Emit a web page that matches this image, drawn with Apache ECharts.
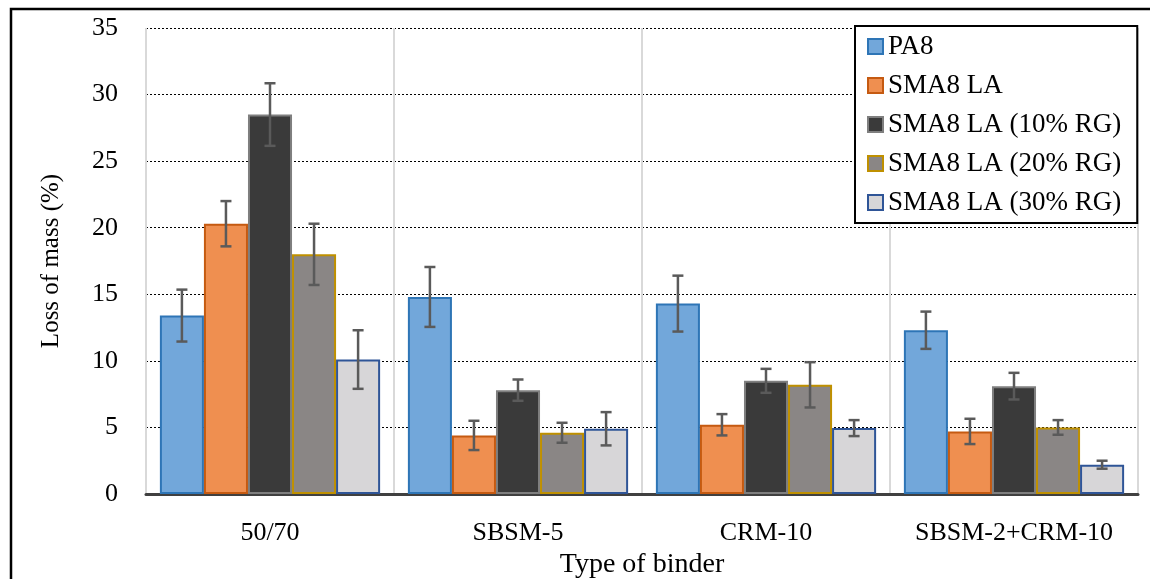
<!DOCTYPE html>
<html>
<head>
<meta charset="utf-8">
<script src="https://cdn.jsdelivr.net/npm/echarts@6/dist/echarts.min.js"></script>
<style>
  html, body { margin: 0; padding: 0; background: #fff; overflow: hidden; }
  #chart { width: 1150px; height: 579px; }
</style>
</head>
<body>
<div id="chart"></div>
<script>
  // categories + series names
  const categories = ['50/70', 'SBSM-5', 'CRM-10', 'SBSM-2+CRM-10'];
  const seriesNames = ['PA8', 'SMA8 LA', 'SMA8 LA (10% RG)', 'SMA8 LA (20% RG)', 'SMA8 LA (30% RG)'];
  const yTicks = [0, 5, 10, 15, 20, 25, 30, 35];

  // mean loss of mass (%)
  const pa8 = [13.4, 14.8, 14.3, 12.3];
  const sma8 = [20.3, 4.4, 5.2, 4.7];
  const rg10 = [28.5, 7.8, 8.5, 8.1];
  const rg20 = [18.0, 4.6, 8.2, 5.0];
  const rg30 = [10.1, 4.9, 4.95, 2.2];

  // error bar half-widths
  const errPa8 = [1.95, 2.25, 2.1, 1.4];
  const errSma8 = [1.7, 1.1, 0.8, 0.95];
  const errRg10 = [2.35, 0.8, 0.9, 1.0];
  const errRg20 = [2.3, 0.75, 1.7, 0.55];
  const errRg30 = [2.2, 1.25, 0.6, 0.3];

  const FONT = '"Liberation Serif", "Times New Roman", serif';
  const fills = ['#72a7da', '#ef8f50', '#3a3a3a', '#8a8685', '#d7d6d8'];
  const borders = ['#2e75b6', '#c55a11', '#7f7f7f', '#bf9000', '#2f5597'];
  const catGap = 0.112;

  const values = [pa8, sma8, rg10, rg20, rg30];
  const errors = [errPa8, errSma8, errRg10, errRg20, errRg30];

  let chart = echarts.init(document.getElementById('chart'));

  let series = seriesNames.map((name, i) => ({
    name: name,
    type: 'bar',
    barGap: '0%',
    barCategoryGap: (catGap * 100) + '%',
    itemStyle: {
      color: fills[i],
      borderColor: borders[i],
      borderWidth: 2
    },
    data: values[i]
  }));

  // error bars: [catIndex, low, high, seriesIndex]
  let errData = [];
  values.forEach((vals, s) => {
    vals.forEach((v, c) => {
      errData.push([c, v - errors[s][c], v + errors[s][c], s]);
    });
  });

  series.push({
    type: 'custom',
    name: 'err',
    z: 10,
    silent: true,
    data: errData,
    encode: {x: 0, y: [1, 2]},
    renderItem: function (params, api) {
      let c = api.value(0), s = api.value(3);
      let lo = api.coord([c, api.value(1)]);
      let hi = api.coord([c, api.value(2)]);
      let band = api.size([1, 0])[0];
      let groupW = band * (1 - catGap);
      let barW = groupW / seriesNames.length;
      let x = lo[0] - groupW / 2 + barW * (s + 0.5);
      let half = 5.5;
      let style = {stroke: '#5a5a5a', lineWidth: 2.5};
      return {
        type: 'group',
        children: [
          {type: 'line', shape: {x1: x, y1: hi[1], x2: x, y2: lo[1]}, style: style},
          {type: 'line', shape: {x1: x - half, y1: hi[1], x2: x + half, y2: hi[1]}, style: style},
          {type: 'line', shape: {x1: x - half, y1: lo[1], x2: x + half, y2: lo[1]}, style: style}
        ]
      };
    }
  });

  chart.setOption({
    animation: false,
    textStyle: {fontFamily: FONT, color: '#000'},
    graphic: [{
      type: 'rect',
      shape: {x: 11, y: 9, width: 1400, height: 800},
      style: {fill: 'none', stroke: '#000', lineWidth: 2.5},
      z: 100
    }],
    legend: {
      data: seriesNames,
      orient: 'vertical',
      left: 855,
      top: 26,
      icon: 'rect',
      itemWidth: 15,
      itemHeight: 15,
      itemGap: 12,
      padding: [7, 16, 7, 12],
      borderColor: '#000',
      borderWidth: 2,
      backgroundColor: '#fff',
      textStyle: {fontFamily: FONT, fontSize: 27, lineHeight: 27, color: '#000'},
      z: 20
    },
    grid: {
      left: 146,
      right: 12,
      top: 28,
      bottom: 85,
      containLabel: false,
      outerBoundsMode: 'none'
    },
    xAxis: {
      type: 'category',
      data: categories,
      name: 'Type of binder',
      nameLocation: 'middle',
      nameGap: 55,
      nameTextStyle: {fontFamily: FONT, fontSize: 28, color: '#000'},
      axisLine: {show: true, lineStyle: {color: '#404040', width: 3}},
      axisTick: {show: false},
      axisLabel: {fontFamily: FONT, fontSize: 26, color: '#000', margin: 26, interval: 0},
      splitLine: {show: true, interval: 0, lineStyle: {color: '#d9d9d9', width: 2}}
    },
    yAxis: {
      type: 'value',
      min: 0,
      max: 35,
      interval: 5,
      name: 'Loss of mass (%)',
      nameLocation: 'middle',
      nameGap: 82,
      nameTextStyle: {fontFamily: FONT, fontSize: 25, color: '#000'},
      axisLine: {show: false},
      axisTick: {show: false},
      axisLabel: {
        fontFamily: FONT, fontSize: 26, color: '#000', margin: 28,
        formatter: v => yTicks.indexOf(v) >= 0 ? String(v) : ''
      },
      splitLine: {show: true, lineStyle: {color: '#000', width: 1, type: [2, 2]}}
    },
    series: series
  });
</script>
</body>
</html>
